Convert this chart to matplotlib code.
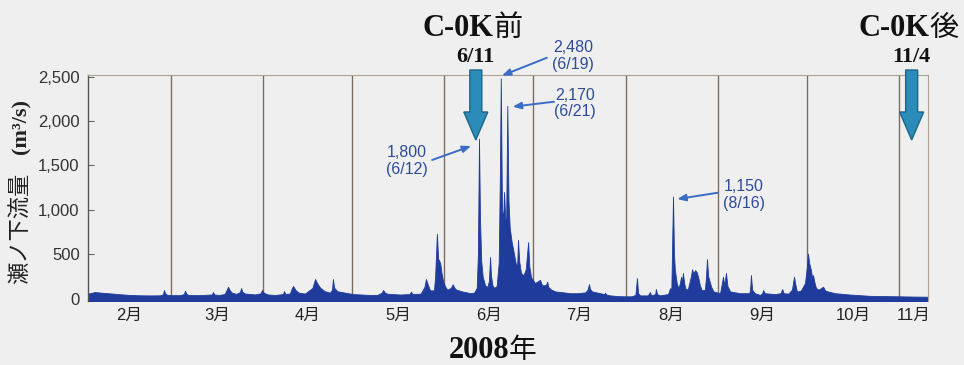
import numpy as np
import matplotlib
matplotlib.use('Agg')
import matplotlib.pyplot as plt
from matplotlib.patches import Polygon
from matplotlib.transforms import IdentityTransform

# flow at Senoshita, 2008 -- time in days from Jan 1 (0 = Jan 1), flow in m3/s
flow_day = [
    32.06, 33.0, 34.4, 36.5, 39.5, 43.0, 46.2, 50.0, 53.0, 56.3, 57.3, 57.64, 58.0, 58.7,
    60.0, 63.0, 64.3, 64.7, 65.2, 66.0, 69.8, 73.8, 74.1, 74.6, 76.0, 78.0, 78.5, 79.2,
    79.8, 80.5, 82.0, 83.2, 83.6, 84.0, 84.9, 88.3, 90.2, 90.6, 91.2,
    92.5, 95.0, 97.7, 98.0, 98.5, 100.0, 100.6, 101.1, 102.0, 103.0, 105.1, 107.6, 108.5,
    109.2, 110.2, 111.8, 113.5, 114.2, 114.5, 114.9, 116.0, 118.6,
    121.3, 127.0, 129.5, 130.9, 131.4, 131.9, 132.7, 137.0, 140.3, 140.8, 141.3, 144.0,
    145.3, 145.8, 146.5, 147.2, 148.5, 148.9, 149.5, 149.9, 150.2, 150.6, 151.0, 151.6,
    152.3, 153.0, 154.2, 154.8, 155.4, 156.0, 158.0, 160.6, 162.0, 162.9, 163.3, 163.67,
    164.0, 164.4, 164.9, 165.7, 166.5, 167.0, 167.4, 167.7, 168.2, 168.7, 169.6, 170.3,
    170.7, 171.0, 171.4, 171.8, 172.1, 172.5, 172.8, 173.2, 173.6, 174.0, 174.6, 175.4,
    176.0, 176.5, 176.8, 177.2, 177.8, 178.6, 179.4, 180.2, 180.6, 181.2,
    182.0, 182.5, 183.3, 184.2, 184.9, 186.2, 186.6, 187.0, 188.0, 189.3, 192.0, 194.3,
    197.0, 199.5, 200.2, 200.7, 201.0, 201.7, 204.4, 205.8, 206.1, 206.5, 207.8, 211.1,
    213.0, 215.0, 216.3, 216.85, 217.2, 217.9, 220.5, 221.2, 221.6, 223.0, 223.2, 223.6,
    224.6, 227.3, 228.0, 228.4, 228.97, 229.3, 229.6, 230.2, 230.7, 231.2, 231.7, 232.0,
    232.3, 232.8, 233.3, 234.0, 235.0, 235.4, 235.8, 236.4, 236.9, 237.4, 238.0, 238.7,
    239.7, 240.1, 240.4, 240.8, 241.8, 242.6,
    244.8, 245.3, 245.8, 246.2, 246.8, 247.3, 248.2, 251.5, 254.7, 255.0, 255.2, 255.6,
    256.5, 258.3, 259.0, 259.3, 259.8, 263.3, 265.2, 265.7, 266.2, 267.8, 269.0, 269.7,
    270.2, 270.7, 272.0, 273.0, 273.4,
    274.0, 274.4, 274.8, 275.4, 275.8, 276.1, 276.6, 277.1, 278.0, 278.9, 279.5, 280.0,
    280.5, 283.5, 288.5, 295.3, 305.0, 310.0, 314.8,
]
flow = [
    56, 62, 73, 66, 58, 48, 40, 36, 35, 36, 48, 96, 60, 42,
    38, 38, 50, 88, 52, 40, 38, 46, 73, 46, 40, 50, 82, 133,
    92, 66, 52, 72, 118, 76, 56, 46, 60, 96, 66,
    46, 40, 50, 84, 52, 56, 110, 141, 92, 66, 56, 120, 220,
    172, 122, 82, 66, 100, 220, 122, 82, 66,
    50, 40, 42, 65, 96, 70, 55, 45, 50, 77, 50, 55,
    130, 220, 152, 92, 92, 250, 730, 450, 430, 400, 300, 190,
    132, 100, 120, 160, 120, 100, 80, 62, 66, 120, 500, 1800,
    900, 430, 250, 150, 130, 200, 467, 260, 150, 120, 140, 400,
    1400, 2480, 1000, 900, 1200, 900, 850, 2170, 1100, 800, 650, 510,
    400, 360, 660, 420, 290, 260, 330, 635, 360, 240,
    200, 175, 190, 210, 150, 150, 190, 130, 100, 80, 70, 60,
    60, 70, 100, 163, 110, 80, 60, 50, 65, 45, 35, 26,
    25, 25, 40, 230, 60, 35, 35, 73, 35, 50, 107, 50,
    36, 50, 118, 90, 1150, 500, 320, 180, 118, 160, 245, 180,
    287, 160, 100, 110, 250, 330, 280, 320, 300, 245, 150, 90,
    100, 250, 445, 250, 133, 80,
    60, 150, 245, 150, 287, 140, 80, 60, 60, 140, 265, 100,
    60, 40, 60, 95, 60, 50, 60, 107, 60, 55, 100, 245,
    150, 77, 90, 150, 175,
    350, 505, 400, 320, 230, 265, 180, 118, 100, 120, 133, 100,
    85, 60, 45, 30, 25, 22, 20,
]

month_names = ['2月', '3月', '4月', '5月', '6月', '7月', '8月', '9月', '10月', '11月']
month_start = [31, 60, 91, 121, 152, 182, 213, 244, 274, 305]
day_min, day_max = 32.06, 314.8

# labelled flood peaks
peak_day = [163.67, 171.0, 173.2, 228.97]
peak_date = ['6/12', '6/19', '6/21', '8/16']

# C-0K before / after survey dates
event_day = [162.6, 309.3]
event_tag = ['前', '後']
event_date = ['6/11', '11/4']

W, H = 964, 365
BG = '#efefef'
FILL = '#1f3c9c'
LBL = '#2d4b9b'
ARR = '#3b6cc6'
SERIF = 'Liberation Serif'
CJK = 'Noto Sans CJK JP'
SANS = ['Liberation Sans', 'Noto Sans CJK JP']


def fxy(px, py):
    # pixel position (y from top) -> figure fraction
    return px / W, 1 - py / H


fig = plt.figure(figsize=(W / 100, H / 100), dpi=100, facecolor=BG)
ax = fig.add_axes([88 / W, 1 - 301 / H, 840 / W, 226 / H])
ax.set_facecolor(BG)

ax.set_xlim(day_min, day_max)
ax.set_ylim(-28, 2517)

for d in month_start[1:]:
    ax.axvline(d, color='#7d6b5d', lw=1.0, zorder=1)

ax.fill_between(flow_day, -100, flow, color=FILL, lw=0.6, edgecolor=FILL, zorder=2)

# y axis
yt = [0, 500, 1000, 1500, 2000, 2500]
ax.set_yticks(yt)
ax.set_yticklabels([f'{v:,}' for v in yt], family='Liberation Sans', fontsize=12, color='#333333')
ax.tick_params(axis='y', direction='in', length=4, width=0.8, color='#666666', pad=6)

# month labels centred in the visible part of each month
bounds = month_start + [day_max]
mid = [(max(bounds[i], day_min) + bounds[i + 1]) / 2 for i in range(len(month_names))]
ax.set_xticks(mid)
ax.set_xticklabels(month_names, family=SANS, fontsize=12, color='#222222')
ax.tick_params(axis='x', length=0, pad=5)

for s in ['top', 'right']:
    ax.spines[s].set_color('#b0a292')
    ax.spines[s].set_linewidth(0.8)
ax.spines['left'].set_color('#555555')
ax.spines['left'].set_linewidth(1.0)
ax.spines['bottom'].set_visible(False)

# peak annotations: text centre and arrow tail/tip in data units
ann = [
    ((139.4, 1548), (147.9, 1560), (161.0, 1717)),
    ((195.3, 2730), (186.5, 2711), (171.4, 2510)),
    ((196.0, 2200), (188.9, 2216), (175.0, 2160)),
    ((252.7, 1165), (244.0, 1191), (230.4, 1120)),
]
fd = np.array(flow_day)
fv = np.array(flow)
for d, date, (txt, tail, tip) in zip(peak_day, peak_date, ann):
    v = fv[np.abs(fd - d) < 0.5].max()
    ax.text(txt[0], txt[1], f'{v:,}\n({date})', ha='center', va='center',
            family='Liberation Sans', fontsize=11.5, color=LBL, linespacing=1.1,
            clip_on=False, zorder=5)
    ax.annotate('', xy=tip, xytext=tail, annotation_clip=False,
                arrowprops=dict(arrowstyle='-|>,head_length=0.5,head_width=0.2',
                                color=ARR, lw=1.4, shrinkA=0, shrinkB=0), zorder=5)

# survey arrows with their headings
for d, tag, date in zip(event_day, event_tag, event_date):
    cx = ax.transData.transform((d, 0))[0]
    top, head, tip = H - 70, H - 112, H - 140
    pts = [(cx - 6, top), (cx + 6, top), (cx + 6, head), (cx + 12, head),
           (cx, tip), (cx - 12, head), (cx - 6, head)]
    fig.add_artist(Polygon(pts, closed=True, transform=IdentityTransform(),
                           facecolor='#2b8cb9', edgecolor='#1d6688', lw=1.0, zorder=6))
    split = cx + 18
    fig.text(split / W, 1 - 36 / H, 'C-0K', ha='right', va='baseline',
             family=SERIF, weight='bold', fontsize=22, color='#111111')
    fig.text(split / W, 1 - 36 / H, tag, ha='left', va='baseline',
             family=CJK, fontsize=21, color='#111111')
    fig.text(cx / W, 1 - 62 / H, date, ha='center', va='baseline',
             family=SERIF, weight='bold', fontsize=16, color='#111111')

# x axis title
x, y = fxy(509, 358)
fig.text(x, y, '2008', ha='right', va='baseline', family=SERIF, weight='bold',
         fontsize=22, color='#111111')
fig.text(x, y, '年', ha='left', va='baseline', family=CJK, fontsize=20, color='#111111')

# y axis title
x, y = fxy(20, 228)
fig.text(x, y, '瀬ノ下流量', rotation=90, ha='center', va='center',
         family=CJK, fontsize=16, color='#222222')
x, y = fxy(21, 127)
fig.text(x, y, '(m³/s)', rotation=90, ha='center', va='center',
         family=SERIF, weight='bold', fontsize=16, color='#222222')

fig.savefig('out.png', dpi=100, facecolor=BG)
plt.close(fig)
